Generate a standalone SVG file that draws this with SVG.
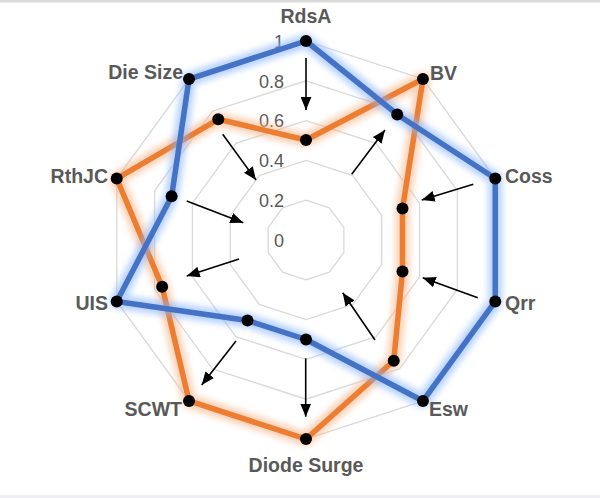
<svg xmlns="http://www.w3.org/2000/svg" width="600" height="498" viewBox="0 0 600 498">
<defs>
<style>
.ring{fill:none;stroke:#d9d9d9;stroke-width:1.3}
.cat{font-family:"Liberation Sans",Arial,sans-serif;font-weight:bold;font-size:19.5px;fill:#595959}
.val{font-family:"Liberation Sans",Arial,sans-serif;font-size:18px;fill:#595959;text-anchor:end}
.halo{fill:none;stroke-width:14;stroke-linejoin:round;opacity:0.6;filter:url(#blur)}
.line{fill:none;stroke-width:5.5;stroke-linejoin:round}
.dot{fill:#000}
.arr{stroke:#000;stroke-width:1.6;fill:none;marker-end:url(#ah)}
</style>
<filter id="blur" x="-20%" y="-20%" width="140%" height="140%"><feGaussianBlur stdDeviation="3"/></filter>
<marker id="ah" viewBox="0 0 12 10" refX="12" refY="5" markerUnits="userSpaceOnUse" markerWidth="13" markerHeight="11" orient="auto"><path d="M0,0 L12,5 L0,10 z" fill="#000"/></marker>
</defs>
<rect width="600" height="498" fill="#fff"/>
<rect x="0" y="0" width="600" height="2.5" fill="#d9d9d9"/>
<rect x="0" y="495" width="600" height="3" fill="#eeeef3"/>
<g id="grid">
<polygon class="ring" points="306,41 422.97,79.01 495.26,178.51 495.26,301.49 422.97,400.99 306,439 189.03,400.99 116.74,301.49 116.74,178.51 189.03,79.01"/>
<polygon class="ring" points="306,80.8 399.58,111.21 457.41,190.8 457.41,289.2 399.58,368.79 306,399.2 212.42,368.79 154.59,289.2 154.59,190.8 212.42,111.21"/>
<polygon class="ring" points="306,120.6 376.18,143.4 419.56,203.1 419.56,276.9 376.18,336.6 306,359.4 235.82,336.6 192.44,276.9 192.44,203.1 235.82,143.4"/>
<polygon class="ring" points="306,160.4 352.79,175.6 381.7,215.4 381.7,264.6 352.79,304.4 306,319.6 259.21,304.4 230.3,264.6 230.3,215.4 259.21,175.6"/>
<polygon class="ring" points="306,200.2 329.39,207.8 343.85,227.7 343.85,252.3 329.39,272.2 306,279.8 282.61,272.2 268.15,252.3 268.15,227.7 282.61,207.8"/>
</g>
<g id="axis-values">
<text class="val" x="284" y="47.8">1</text>
<text class="val" x="284" y="87.6">0.8</text>
<text class="val" x="284" y="127.4">0.6</text>
<text class="val" x="284" y="167.2">0.4</text>
<text class="val" x="284" y="207">0.2</text>
<text class="val" x="284" y="246.8">0</text>
</g>
<g id="series-orange">
<polygon class="halo" stroke="#f6b283" points="306,140 422.97,79.01 402.5,208.6 402.5,271.4 393.73,360.74 306,439 189.03,400.99 162.16,286.74 116.74,178.51 218.27,119.26"/>
<polygon class="line" stroke="#ed7d31" points="306,140 422.97,79.01 402.5,208.6 402.5,271.4 393.73,360.74 306,439 189.03,400.99 162.16,286.74 116.74,178.51 218.27,119.26"/>
<circle class="dot" cx="306" cy="140" r="6"/>
<circle class="dot" cx="422.97" cy="79.01" r="6"/>
<circle class="dot" cx="402.5" cy="208.6" r="6"/>
<circle class="dot" cx="402.5" cy="271.4" r="6"/>
<circle class="dot" cx="393.73" cy="360.74" r="6"/>
<circle class="dot" cx="306" cy="439" r="6"/>
<circle class="dot" cx="189.03" cy="400.99" r="6"/>
<circle class="dot" cx="162.16" cy="286.74" r="6"/>
<circle class="dot" cx="116.74" cy="178.51" r="6"/>
<circle class="dot" cx="218.27" cy="119.26" r="6"/>
</g>
<g id="series-blue">
<polygon class="halo" stroke="#86b4ff" points="306,41 397.24,114.43 495.26,178.51 495.26,301.49 422.97,400.99 306,339.5 247.51,320.5 116.74,301.49 171.63,196.34 189.03,79.01"/>
<polygon class="line" stroke="#4472c4" points="306,41 397.24,114.43 495.26,178.51 495.26,301.49 422.97,400.99 306,339.5 247.51,320.5 116.74,301.49 171.63,196.34 189.03,79.01"/>
<circle class="dot" cx="306" cy="41" r="6"/>
<circle class="dot" cx="397.24" cy="114.43" r="6"/>
<circle class="dot" cx="495.26" cy="178.51" r="6"/>
<circle class="dot" cx="495.26" cy="301.49" r="6"/>
<circle class="dot" cx="422.97" cy="400.99" r="6"/>
<circle class="dot" cx="306" cy="339.5" r="6"/>
<circle class="dot" cx="247.51" cy="320.5" r="6"/>
<circle class="dot" cx="116.74" cy="301.49" r="6"/>
<circle class="dot" cx="171.63" cy="196.34" r="6"/>
<circle class="dot" cx="189.03" cy="79.01" r="6"/>
</g>
<g id="connectors">
<line class="arr" x1="306" y1="58" x2="306" y2="110"/>
<line class="arr" x1="351.7" y1="174.3" x2="385" y2="130"/>
<line class="arr" x1="473.3" y1="184.3" x2="421.7" y2="200"/>
<line class="arr" x1="477.7" y1="297.7" x2="422.7" y2="277.7"/>
<line class="arr" x1="375" y1="340" x2="342.7" y2="292.7"/>
<line class="arr" x1="305.7" y1="358.3" x2="305.7" y2="416.7"/>
<line class="arr" x1="236" y1="341" x2="201.7" y2="385"/>
<line class="arr" x1="239" y1="259" x2="186.7" y2="276"/>
<line class="arr" x1="186.7" y1="201" x2="243.3" y2="222.7"/>
<line class="arr" x1="222.7" y1="134.3" x2="256" y2="180"/>
</g>
<g id="node-RdsA"><text class="cat" x="306" y="23" text-anchor="middle">RdsA</text></g>
<g id="node-BV"><text class="cat" x="430" y="80">BV</text></g>
<g id="node-Coss"><text class="cat" x="505" y="183">Coss</text></g>
<g id="node-Qrr"><text class="cat" x="505" y="310">Qrr</text></g>
<g id="node-Esw"><text class="cat" x="429" y="416">Esw</text></g>
<g id="node-DiodeSurge"><text class="cat" x="306" y="472" text-anchor="middle">Diode Surge</text></g>
<g id="node-SCWT"><text class="cat" x="182" y="416" text-anchor="end">SCWT</text></g>
<g id="node-UIS"><text class="cat" x="108" y="310" text-anchor="end">UIS</text></g>
<g id="node-RthJC"><text class="cat" x="108" y="183" text-anchor="end">RthJC</text></g>
<g id="node-DieSize"><text class="cat" x="183" y="79" text-anchor="end">Die Size</text></g>
</svg>
